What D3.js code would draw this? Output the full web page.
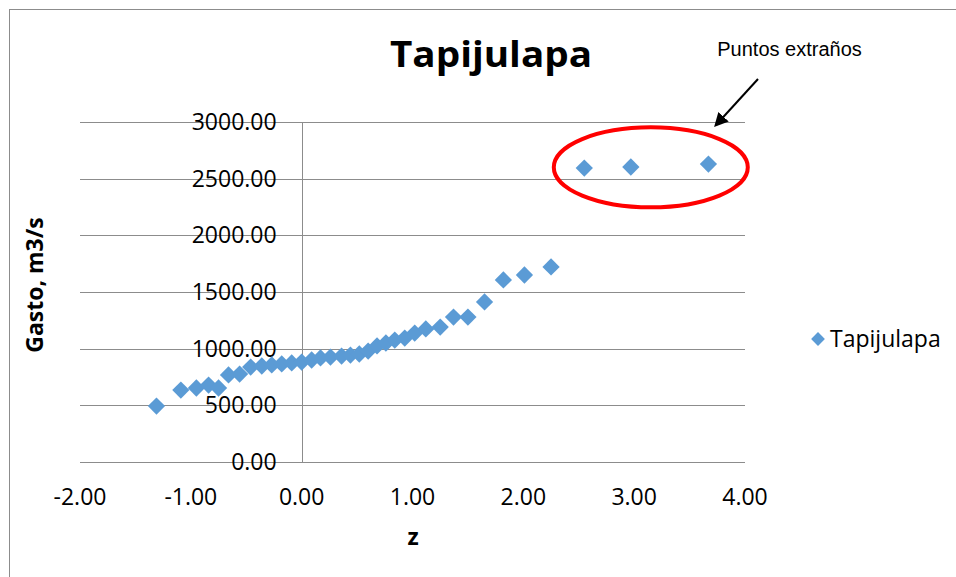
<!DOCTYPE html>
<html>
<head>
<meta charset="utf-8">
<script src="https://cdn.jsdelivr.net/npm/d3@7"></script>
<style>
  body { margin: 0; background: #fff; }
  svg { display: block; }
</style>
</head>
<body>
<svg width="956" height="577"></svg>
<script>
// z (normal score) vs gasto
const zVals = [-1.31, -1.09, -0.95, -0.84, -0.75, -0.66, -0.56, -0.46, -0.36, -0.27,
  -0.18, -0.09, 0.00, 0.09, 0.17, 0.26, 0.36, 0.44, 0.52, 0.60,
  0.68, 0.76, 0.84, 0.93, 1.02, 1.12, 1.25, 1.37, 1.50, 1.65,
  1.82, 2.01, 2.25, 2.55, 2.97, 3.67];
const gastoVals = [494, 635, 653, 679, 653, 768, 776, 838, 847, 856,
  865, 874, 882, 900, 918, 926, 935, 944, 953, 979,
  1024, 1050, 1076, 1094, 1138, 1174, 1191, 1279, 1279, 1412,
  1606, 1650, 1721, 2594, 2603, 2629];
const xTicks = [-2, -1, 0, 1, 2, 3, 4];
const yTicks = [0, 500, 1000, 1500, 2000, 2500, 3000];

const svg = d3.select("svg");
const color = "#5b9bd5";
const tickFont = "23px 'Open Sans', sans-serif";

// chart frame
svg.append("rect")
  .attr("x", 9.5).attr("y", 9.5)
  .attr("width", 960).attr("height", 580)
  .attr("fill", "none").attr("stroke", "#8c8c8c");

const x = d3.scaleLinear().domain([-2, 4]).range([80, 745]);
const y = d3.scaleLinear().domain([0, 3000]).range([462, 122]);

// horizontal grid
svg.append("g").selectAll("line")
  .data(yTicks)
  .enter().append("line")
    .attr("x1", x(-2)).attr("x2", x(4))
    .attr("y1", function(d) { return Math.round(y(d)) + 0.5; })
    .attr("y2", function(d) { return Math.round(y(d)) + 0.5; })
    .attr("stroke", "#8c8c8c").attr("stroke-width", 1);

// y axis at z = 0
svg.append("line")
  .attr("x1", Math.round(x(0)) + 0.5).attr("x2", Math.round(x(0)) + 0.5)
  .attr("y1", y(3000)).attr("y2", y(0))
  .attr("stroke", "#8c8c8c");

// y tick labels
svg.append("g").selectAll("text")
  .data(yTicks)
  .enter().append("text")
    .attr("x", x(0) - 25)
    .attr("y", function(d) { return y(d) + 8; })
    .attr("text-anchor", "end")
    .style("font", tickFont)
    .attr("fill", "#000")
    .text(function(d) { return d.toFixed(2); });

// x tick labels
svg.append("g").selectAll("text")
  .data(xTicks)
  .enter().append("text")
    .attr("x", function(d) { return x(d); })
    .attr("y", 505)
    .attr("text-anchor", "middle")
    .style("font", tickFont)
    .attr("fill", "#000")
    .text(function(d) { return d.toFixed(2); });

// points
const diamond = d3.symbol().type(d3.symbolDiamond2).size(190);
svg.append("g").selectAll("path")
  .data(zVals.map(function(z, i) { return [z, gastoVals[i]]; }))
  .enter().append("path")
    .attr("d", diamond)
    .attr("transform", function(d) { return "translate(" + x(d[0]) + "," + y(d[1]) + ")"; })
    .attr("fill", color);

// titles
svg.append("text")
  .attr("x", 491).attr("y", 67)
  .attr("text-anchor", "middle")
  .attr("textLength", 202).attr("lengthAdjust", "spacingAndGlyphs")
  .style("font", "bold 36px 'Open Sans', sans-serif")
  .text("Tapijulapa");

svg.append("text")
  .attr("x", 413).attr("y", 545)
  .attr("text-anchor", "middle")
  .style("font", "bold 23px 'Open Sans', sans-serif")
  .text("z");

svg.append("text")
  .attr("transform", "translate(43,285) rotate(-90)")
  .attr("text-anchor", "middle")
  .style("font", "bold 23px 'Open Sans', sans-serif")
  .text("Gasto, m3/s");

// legend
svg.append("path")
  .attr("d", diamond)
  .attr("transform", "translate(818,339) scale(0.8)")
  .attr("fill", color);
svg.append("text")
  .attr("x", 830).attr("y", 347)
  .style("font", "23px 'Open Sans', sans-serif")
  .text("Tapijulapa");

// annotation: outliers
svg.append("ellipse")
  .attr("cx", x(3.15)).attr("cy", y(2600))
  .attr("rx", 97).attr("ry", 40)
  .attr("fill", "none").attr("stroke", "#ff0000").attr("stroke-width", 4);

svg.append("defs").append("marker")
  .attr("id", "arrow")
  .attr("viewBox", "0 0 10 10")
  .attr("refX", 8).attr("refY", 5)
  .attr("markerWidth", 7).attr("markerHeight", 7)
  .attr("orient", "auto")
  .append("path").attr("d", "M0,0 L10,5 L0,10 Z").attr("fill", "#000");

svg.append("line")
  .attr("x1", 758).attr("y1", 79)
  .attr("x2", 716).attr("y2", 125)
  .attr("stroke", "#000").attr("stroke-width", 2)
  .attr("marker-end", "url(#arrow)");

svg.append("text")
  .attr("x", 789.5).attr("y", 56)
  .attr("text-anchor", "middle")
  .style("font", "20px 'Liberation Sans', Arial, sans-serif")
  .text("Puntos extraños");
</script>
</body>
</html>
